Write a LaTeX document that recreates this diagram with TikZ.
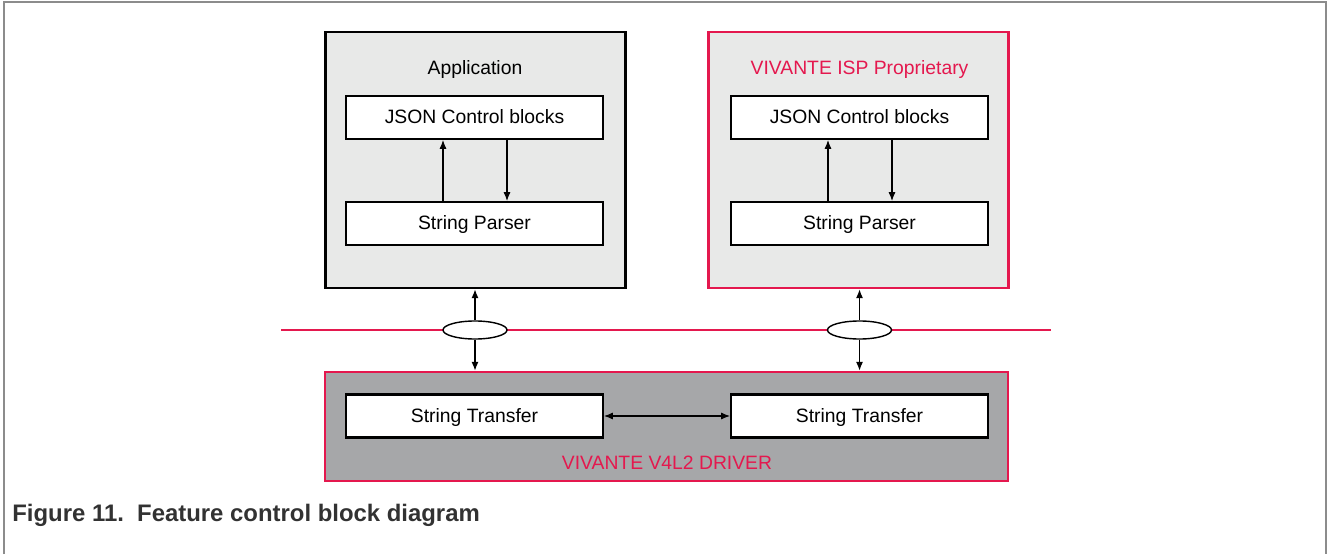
\documentclass[tikz,border=0pt]{standalone}
\usepackage{fontspec}
\setmainfont{Liberation Sans}
\usetikzlibrary{arrows.meta}
\usetikzlibrary{positioning}
\usetikzlibrary{shapes.geometric}
\definecolor{vred}{RGB}{228,24,78}
\definecolor{paneA}{RGB}{232,233,232}
\definecolor{paneB}{RGB}{166,167,169}
\definecolor{framegray}{RGB}{140,140,140}
\definecolor{captext}{RGB}{50,50,50}
\tikzset{
	outer/.style={draw, line width=1.6pt, minimum width=6cm, minimum height=5.12cm, inner sep=0pt},
	inner/.style={draw, fill=white, line width=1.2pt, minimum width=5.14cm, minimum height=0.86cm, inner sep=0pt, text height=0.72em, text depth=0pt, font=\fontsize{11}{13}\selectfont},
	joint/.style={ellipse, draw, fill=white, line width=0.8pt, minimum width=1.28cm, minimum height=0.36cm, inner sep=0pt},
	arr/.style={line width=0.6pt, -{Latex[length=5pt,width=4pt]}},
	darr/.style={line width=0.6pt, {Latex[length=5pt,width=4pt]}-{Latex[length=5pt,width=4pt]}},
	title/.style={font=\fontsize{11}{13}\selectfont, inner sep=0pt, text height=0.72em, text depth=0pt}
}
\begin{document}
\begin{tikzpicture}
	\useasboundingbox (0,0) rectangle (26.56,11.08);
	\draw[framegray, line width=0.8pt] (0.08,0) -- (0.08,11.04) -- (26.52,11.04) -- (26.52,0);

	% upper blocks
	\node[outer, fill=paneA] (app) at (9.51,7.88) {};
	\node[outer, fill=paneA, draw=vred] (isp) at (17.17,7.88) {};
	\node[title] (apptitle) at (9.5,9.72) {Application};
	\node[title, text=vred] (isptitle) at (17.19,9.72) {VIVANTE ISP Proprietary};

	\node[inner] (jsonL) at (9.49,8.73) {JSON Control blocks};
	\node[inner] (parseL) at (9.49,6.61) {String Parser};
	\node[inner] (jsonR) at (17.19,8.73) {JSON Control blocks};
	\node[inner] (parseR) at (17.19,6.61) {String Parser};

	\draw[arr] ([xshift=-0.63cm]parseL.north) -- ([xshift=-0.63cm]jsonL.south);
	\draw[arr] ([xshift=0.65cm]jsonL.south) -- ([xshift=0.65cm]parseL.north);
	\draw[arr] ([xshift=-0.63cm]parseR.north) -- ([xshift=-0.63cm]jsonR.south);
	\draw[arr] ([xshift=0.65cm]jsonR.south) -- ([xshift=0.65cm]parseR.north);

	% driver
	\node[draw=vred, fill=paneB, line width=1.6pt, minimum width=13.66cm, minimum height=2.18cm, inner sep=0pt] (drv) at (13.33,2.55) {};
	\node[inner] (xferL) at (9.49,2.76) {String Transfer};
	\node[inner] (xferR) at (17.19,2.76) {String Transfer};
	\node[title, text=vred] (drvtitle) at (13.34,1.82) {VIVANTE V4L2 DRIVER};
	\draw[darr] (xferL) -- (xferR);

	% bus
	\coordinate (busL) at (5.62,4.48);
	\coordinate (busR) at (21.02,4.48);
	\draw[vred, line width=1.7pt] (busL) -- (busR);
	\node[joint] (jL) at (9.5,4.48) {};
	\node[joint] (jR) at (17.19,4.48) {};

	\draw[arr] (jL.north) -- (jL.north |- app.south);
	\draw[arr] (jL.south) -- (jL.south |- drv.north);
	\draw[arr] (jR.north) -- (jR.north |- isp.south);
	\draw[arr] (jR.south) -- (jR.south |- drv.north);

	\node[anchor=base west, inner sep=0pt, text=captext, font=\fontsize{13.6}{16}\selectfont\bfseries] (cap) at (0.24,0.66) {Figure 11.\ \ Feature control block diagram};
\end{tikzpicture}
\end{document}
